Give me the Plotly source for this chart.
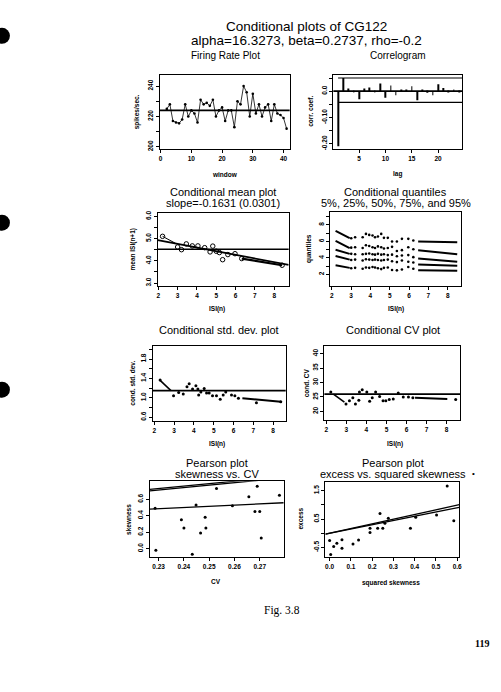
import plotly.graph_objects as go

W, H = 501, 692

# ---------------- data ----------------
# Firing rate plot
window = [2, 3, 4, 5, 6, 7, 8, 9, 10, 11, 12, 13, 14, 15, 16, 17, 18, 19, 20, 21,
          22, 23, 24, 25, 26, 27, 28, 29, 30, 31, 32, 33, 34, 35, 36, 37, 38, 39, 40, 41]
rate = [225, 228, 217, 216, 215.5, 218, 228, 220, 224, 222, 216, 231, 228, 229, 227, 231,
        220, 224, 226, 217, 224, 224, 213, 230, 228, 240, 236, 220, 235, 222, 228, 220,
        226, 228, 217, 228, 222, 221, 219, 212]
rate_mean = 224

# Correlogram
lags = [1, 2, 3, 4, 5, 6, 7, 8, 9, 10, 11, 12, 13, 14, 15, 16, 17, 18, 19, 20, 21, 22, 23, 24]
acf = [-0.209, 0.05, 0.01, -0.004, -0.031, 0.01, 0.014, -0.003, 0.029, -0.025, 0.022, -0.015,
       0.004, 0.003, 0.019, -0.034, 0.003, -0.006, -0.015, 0.026, 0.0125, -0.004, 0.006, -0.003]
acf_upper = 0.05
acf_lower = -0.0425

# Conditional mean
mean_x = [2.22, 3.0, 3.2, 3.45, 3.76, 4.05, 4.4, 4.68, 4.82, 5.0, 5.16, 5.33, 5.6, 5.97, 6.32, 8.41]
mean_y = [5.10, 4.62, 4.50, 4.76, 4.67, 4.67, 4.59, 4.40, 4.66, 4.43, 4.37, 4.05, 4.28, 4.32, 4.10, 3.80]
mean_level = 4.52
mean_intercept = 5.246
mean_slope = -0.1631
mean_head_x = [2.22, 2.9]
mean_head_y = [5.10, 4.78]
mean_tail_x = [6.32, 8.41]
mean_tail_y = [4.10, 3.80]

# Conditional quantiles
q_left_x = [2.2, 2.93]
q_mid_x = [3.01, 3.21, 3.6, 3.77, 3.94, 4.11, 4.24, 4.39, 4.56, 4.7, 4.9, 5.12, 5.37, 5.63, 5.96, 6.22]
q_right_x = [6.47, 8.49]
q95_left = [7.28, 6.4]
q95_mid = [6.4, 6.52, 6.52, 6.92, 6.8, 6.72, 6.52, 6.6, 6.92, 6.44, 6.44, 6.0, 6.0, 6.32, 6.32, 6.12]
q95_right = [6.0, 5.9]
q75_left = [6.08, 5.2]
q75_mid = [5.25, 5.3, 5.2, 5.55, 5.45, 5.3, 5.2, 5.4, 5.3, 5.15, 5.2, 5.35, 4.85, 4.95, 5.3, 5.05]
q75_right = [4.95, 4.45]
q50_left = [5.0, 4.5]
q50_mid = [4.5, 4.45, 4.45, 4.5, 4.55, 4.45, 4.4, 4.5, 4.4, 4.45, 4.35, 4.4, 4.2, 4.3, 4.35, 4.1]
q50_right = [3.95, 3.55]
q25_left = [4.25, 3.8]
q25_mid = [3.75, 3.8, 3.7, 3.85, 3.8, 3.75, 3.8, 3.75, 3.7, 3.75, 3.8, 3.6, 3.5, 3.7, 3.55, 3.45]
q25_right = [3.2, 3.05]
q05_left = [3.12, 2.8]
q05_mid = [2.75, 2.8, 2.7, 2.85, 2.8, 2.9, 2.85, 2.75, 2.65, 2.8, 2.85, 2.55, 2.5, 2.6, 2.9, 2.7]
q05_right = [2.5, 2.45]

# Conditional std. dev.
sd_x = [2.29, 2.97, 3.23, 3.46, 3.65, 3.76, 3.93, 4.1, 4.2, 4.24, 4.35, 4.52, 4.64, 4.77,
        4.94, 5.14, 5.33, 5.48, 5.61, 5.9, 6.07, 6.25, 7.16, 8.39]
sd_y = [1.37, 1.04, 1.11, 1.08, 1.23, 1.29, 1.18, 1.25, 1.18, 1.06, 1.12, 1.19, 1.10, 1.10,
        1.04, 1.04, 0.97, 1.06, 1.12, 1.06, 1.04, 0.99, 0.90, 0.92]
sd_level = 1.15
sd_head_x = [2.29, 2.84]
sd_head_y = [1.36, 1.15]
sd_tail_x = [6.45, 8.39]
sd_tail_y = [0.99, 0.92]

# Conditional CV
cv_x = [2.22, 2.98, 3.15, 3.32, 3.45, 3.62, 3.65, 3.79, 4.02, 4.16, 4.29, 4.46, 4.66, 4.83,
        4.97, 5.14, 5.34, 5.59, 5.84, 6.1, 6.32, 8.46]
cv_y = [26.7, 22.6, 23.7, 24.7, 22.6, 23.9, 26.7, 27.5, 26.7, 23.5, 24.7, 26.7, 25.2, 23.7,
        23.7, 24.1, 24.3, 26.4, 25.0, 25.0, 24.7, 24.1]
cv_level = 26.0
cv_head_x = [2.35, 2.9]
cv_head_y = [26.0, 23.2]
cv_tail_x = [6.43, 8.04]
cv_tail_y = [24.7, 24.3]

# Pearson: skewness vs CV
p_cv = [0.2289, 0.2286, 0.239, 0.240, 0.2433, 0.2448, 0.2466, 0.2484, 0.2487, 0.2529,
        0.2592, 0.2657, 0.2681, 0.2690, 0.2700, 0.2706, 0.2778]
p_skew = [-0.02, 0.49, 0.35, 0.25, -0.07, 0.53, 0.19, 0.38, 0.25, 0.73, 0.52, 0.63, 0.45,
          0.76, 0.45, 0.13, 0.65]
skew_lines = [(0.1513, 1.4545), (0.022, 3.0), (0.040, 3.0)]   # (intercept, slope)

# Pearson: excess vs squared skewness
sq_skew = [0.0, 0.005, 0.019, 0.034, 0.058, 0.058, 0.11, 0.136, 0.19, 0.19, 0.226, 0.237,
           0.25, 0.26, 0.276, 0.38, 0.405, 0.503, 0.553, 0.584]
excess = [-0.26, -0.75, -0.47, -0.35, -0.53, -0.23, -0.38, -0.24, 0.18, 0.03, 0.18, 0.70,
          0.18, 0.35, 0.53, 0.18, 0.56, 0.64, 1.67, 0.44]
excess_lines = [(0.0, 1.65), (0.0, 1.50)]

# ---------------- layout helpers ----------------
boxes = {
    1: (160, 291, 73, 148),
    2: (335, 465, 73, 148),
    3: (158, 290, 212, 286),
    4: (332, 464, 211, 286),
    5: (153, 287, 346, 421),
    6: (326, 463, 346, 420),
    7: (150, 285, 482, 558),
    8: (327, 462, 483, 558),
}
xr = {1: [-0.3, 42], 2: [0.1, 24.6], 3: [1.97, 8.75], 4: [1.93, 8.7],
      5: [1.92, 8.64], 6: [1.9, 8.69], 7: [0.2265, 0.2795], 8: [-0.02, 0.61]}
yr = {1: [198.5, 247.6], 2: [-0.22, 0.063], 3: [2.85, 6.16], 4: [0.56, 9.6],
      5: [0.53, 2.07], 6: [17.2, 42.6], 7: [-0.1, 0.82], 8: [-0.83, 1.8]}
xt = {1: ([0, 10, 20, 30, 40], None),
      2: ([5, 10, 15, 20], None),
      3: ([2, 3, 4, 5, 6, 7, 8], None),
      4: ([2, 3, 4, 5, 6, 7, 8], None),
      5: ([2, 3, 4, 5, 6, 7, 8], None),
      6: ([2, 3, 4, 5, 6, 7, 8], None),
      7: ([0.23, 0.24, 0.25, 0.26, 0.27], ['0.23', '0.24', '0.25', '0.26', '0.27']),
      8: ([0, 0.1, 0.2, 0.3, 0.4, 0.5, 0.6], ['0.0', '0.1', '0.2', '0.3', '0.4', '0.5', '0.6'])}
yt = {1: ([200, 210, 220, 230, 240], ['200', '', '220', '', '240']),
      2: ([-0.20, -0.15, -0.10, -0.05, 0.0, 0.05], ['-0.20', '', '-0.10', '', '0.0', '']),
      3: ([3.0, 3.5, 4.0, 4.5, 5.0, 5.5, 6.0], ['3.0', '', '4.0', '', '5.0', '', '6.0']),
      4: ([2, 3, 4, 5, 6, 7, 8, 9], ['2', '', '4', '', '6', '', '8', '']),
      5: ([0.6, 0.8, 1.0, 1.2, 1.4, 1.6, 1.8, 2.0], ['0.6', '', '1.0', '', '1.4', '', '1.8', '']),
      6: ([20, 25, 30, 35, 40], ['20', '25', '30', '35', '40']),
      7: ([0.0, 0.2, 0.4, 0.6], ['0.0', '0.2', '0.4', '0.6']),
      8: ([-0.5, 0.0, 0.5, 1.0, 1.5], ['-0.5', '', '0.5', '', '1.5'])}

FONT = "Liberation Sans"
tickfont = dict(family=FONT, size=6.5, color="black", weight="bold")

fig = go.Figure()


def ax(n):
    return ("x" if n == 1 else f"x{n}"), ("y" if n == 1 else f"y{n}")


layout = dict(width=W, height=H, margin=dict(l=0, r=0, t=0, b=0), autosize=False,
              showlegend=False, plot_bgcolor="white", paper_bgcolor="white")
for n, (x0, x1, y0, y1) in boxes.items():
    xa, ya = ax(n)
    xk = "xaxis" if n == 1 else f"xaxis{n}"
    yk = "yaxis" if n == 1 else f"yaxis{n}"
    xv, xtxt = xt[n]
    yv, ytxt = yt[n]
    common = dict(showline=True, mirror=True, linecolor="black", linewidth=1.3,
                  ticks="outside", ticklen=3, tickwidth=1, tickcolor="black",
                  showgrid=False, zeroline=False, tickfont=tickfont, fixedrange=True)
    layout[xk] = dict(domain=[x0 / W, x1 / W], range=xr[n], anchor=ya,
                      tickmode="array", tickvals=xv,
                      **({"ticktext": xtxt} if xtxt else {}), **common)
    layout[yk] = dict(domain=[1 - y1 / H, 1 - y0 / H], range=yr[n], anchor=xa,
                      tickmode="array", tickvals=yv, ticktext=ytxt, tickangle=-90,
                      **common)
fig.update_layout(**layout)

dot = dict(color="black", size=3)


def pts(n, x, y, marker=None):
    xa, ya = ax(n)
    fig.add_trace(go.Scatter(x=x, y=y, mode="markers", marker=marker or dot,
                             xaxis=xa, yaxis=ya, hoverinfo="skip"))


def seg(n, x, y, w=1.6):
    xa, ya = ax(n)
    fig.add_trace(go.Scatter(x=x, y=y, mode="lines", line=dict(color="black", width=w),
                             xaxis=xa, yaxis=ya, hoverinfo="skip"))


def hline(n, yv, w=1.8, start=None):
    xa, ya = ax(n)
    shp = dict(type="line", y0=yv, y1=yv, yref=ya, line=dict(color="black", width=w))
    if start is None:
        shp.update(xref=f"{xa} domain", x0=0, x1=1)
    else:
        shp.update(xref=xa, x0=start, x1=xr[n][1])
    fig.add_shape(**shp)


def abline(n, a, b, w=1.4):
    xs = list(xr[n])
    seg(n, xs, [a + b * v for v in xs], w)


# Panel 1: firing rate
fig.add_trace(go.Scatter(x=window, y=rate, mode="lines+markers",
                         line=dict(color="black", width=0.8), marker=dict(color="black", size=2.6),
                         xaxis="x", yaxis="y", hoverinfo="skip"))
hline(1, rate_mean)

# Panel 2: correlogram
fig.add_trace(go.Bar(x=lags, y=acf, width=0.13, marker=dict(color="black", line=dict(width=0)),
                     xaxis="x2", yaxis="y2", hoverinfo="skip"))
hline(2, 0.0, 1.8)
hline(2, acf_upper, 1.2, start=lags[0])
hline(2, acf_lower, 1.2, start=lags[0])

# Panel 3: conditional mean
hline(3, mean_level, 1.4)
abline(3, mean_intercept, mean_slope, 1.8)
seg(3, mean_head_x, mean_head_y, 1.0)
seg(3, mean_tail_x, mean_tail_y, 2.2)
pts(3, mean_x, mean_y, dict(symbol="circle-open", size=4.5, color="black", line=dict(width=1)))

# Panel 4: conditional quantiles
for left, mid, right in [(q95_left, q95_mid, q95_right), (q75_left, q75_mid, q75_right),
                         (q50_left, q50_mid, q50_right), (q25_left, q25_mid, q25_right),
                         (q05_left, q05_mid, q05_right)]:
    seg(4, q_left_x, left, 2.0)
    pts(4, q_mid_x, mid, dict(color="black", size=2.6))
    seg(4, q_right_x, right, 2.0)

# Panel 5: std dev
hline(5, sd_level, 1.8)
seg(5, sd_head_x, sd_head_y, 1.6)
seg(5, sd_tail_x, sd_tail_y, 2.0)
pts(5, sd_x, sd_y)

# Panel 6: CV
hline(6, cv_level, 1.8)
seg(6, cv_head_x, cv_head_y, 1.6)
seg(6, cv_tail_x, cv_tail_y, 2.0)
pts(6, cv_x, cv_y)

# Panel 7: Pearson skewness vs CV
for a, b in skew_lines:
    abline(7, a, b, 1.3)
pts(7, p_cv, p_skew)

# Panel 8: Pearson excess vs squared skewness
for a, b in excess_lines:
    abline(8, a, b, 1.3)
pts(8, sq_skew, excess)

# ---------------- text ----------------
def txt(x, y, s, size, angle=0, weight="normal", family=FONT):
    fig.add_annotation(x=x / W, y=1 - y / H, xref="paper", yref="paper", text=s,
                       showarrow=False, textangle=angle, xanchor="center", yanchor="middle",
                       font=dict(family=family, size=size, color="black", weight=weight))


txt(308, 25, "Conditional plots of CG122", 13.5)
txt(308, 38.5, "alpha=16.3273, beta=0.2737, rho=-0.2", 13.5)

txt(226, 54, "Firing Rate Plot", 10)
txt(400, 54, "Correlogram", 10)
txt(224, 191, "Conditional mean plot", 11)
txt(224, 202.5, "slope=-0.1631 (0.0301)", 11)
txt(398, 191, "Conditional quantiles", 11)
txt(398, 202.5, "5%, 25%, 50%, 75%, and 95%", 11)
txt(220, 330, "Conditional std. dev. plot", 11)
txt(395, 330, "Conditional CV plot", 11)
txt(218, 463.5, "Pearson plot", 11)
txt(218, 474.5, "skewness vs. CV", 11)
txt(395, 463.5, "Pearson plot", 11)
txt(395, 474.5, "excess vs. squared skewness", 11)

lab = 6.5
txt(226, 173, "window", lab, weight="bold")
txt(137, 110, "spikes/sec.", lab, -90, "bold")
txt(400, 173, "lag", lab, weight="bold")
txt(312, 110, "corr. coef.", lab, -90, "bold")
txt(218, 309, "ISI(n)", lab, weight="bold")
txt(133, 249, "mean ISI(n+1)", lab, -90, "bold")
txt(398, 309, "ISI(n)", lab, weight="bold")
txt(310, 248, "quantiles", lab, -90, "bold")
txt(218, 445, "ISI(n)", lab, weight="bold")
txt(133, 383, "cond. std. dev.", lab, -90, "bold")
txt(397, 445, "ISI(n)", lab, weight="bold")
txt(308, 383, "cond. CV", lab, -90, "bold")
txt(217, 583, "CV", lab, weight="bold")
txt(129, 520, "skewness", lab, -90, "bold")
txt(393, 584, "squared skewness", lab, weight="bold")
txt(302, 520, "excess", lab, -90, "bold")

txt(476, 474, "•", 8)
txt(283, 612, "Fig. 3.8", 11.5, family="Liberation Serif")
txt(484.5, 645, "119", 10, weight="bold", family="Liberation Serif")

# punch-hole marks on the scanned page edge
for cy in [34, 222, 390]:
    fig.add_shape(type="circle", xref="paper", yref="paper",
                  x0=-7 / W, x1=9 / W, y0=1 - (cy + 8) / H, y1=1 - (cy - 8) / H,
                  fillcolor="black", line=dict(width=0))

fig.write_html("out.html")
